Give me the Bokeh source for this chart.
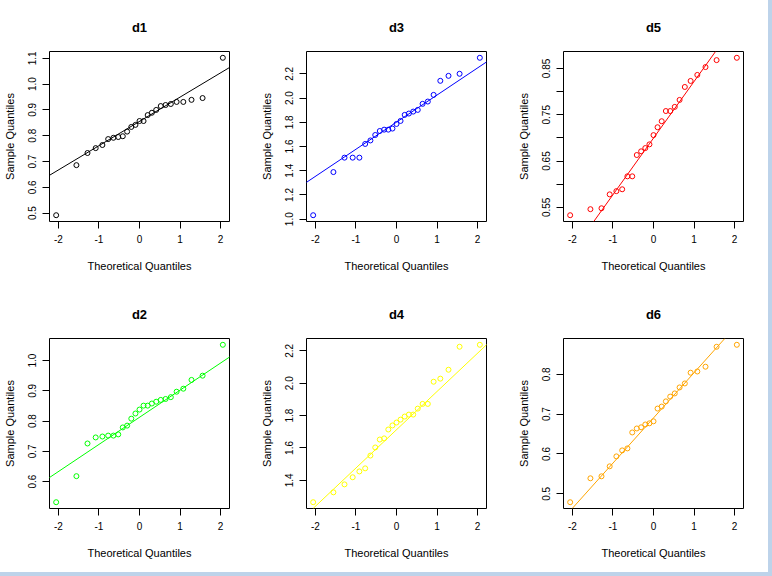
import math
import numpy as np
from bokeh.plotting import figure
from bokeh.models import Range1d, FixedTicker, Slope
from bokeh.layouts import row, column
from bokeh.embed import file_html
from bokeh.resources import INLINE

# Theoretical normal quantiles for n = 25 (ppoints)
theo_q = [-2.054, -1.555, -1.282, -1.080, -0.915, -0.772, -0.643, -0.524, -0.412,
          -0.305, -0.202, -0.100, 0.000, 0.100, 0.202, 0.305, 0.412, 0.524, 0.643,
          0.772, 0.915, 1.080, 1.282, 1.555, 2.054]

# Sorted sample quantiles
d1 = [0.492, 0.686, 0.733, 0.752, 0.764, 0.787, 0.792, 0.795, 0.798, 0.816, 0.834,
      0.842, 0.857, 0.857, 0.880, 0.889, 0.900, 0.915, 0.919, 0.923, 0.931, 0.931,
      0.939, 0.946, 1.102]
d3 = [1.033, 1.389, 1.508, 1.508, 1.508, 1.621, 1.650, 1.695, 1.728, 1.739, 1.739,
      1.748, 1.786, 1.811, 1.861, 1.872, 1.888, 1.902, 1.952, 1.971, 2.026, 2.142,
      2.183, 2.200, 2.332]
d5 = [0.533, 0.546, 0.548, 0.578, 0.585, 0.589, 0.617, 0.617, 0.663, 0.671, 0.678,
      0.686, 0.706, 0.723, 0.736, 0.758, 0.758, 0.767, 0.782, 0.810, 0.823, 0.836,
      0.853, 0.868, 0.873]
d2 = [0.532, 0.618, 0.726, 0.746, 0.749, 0.752, 0.752, 0.756, 0.779, 0.785, 0.808,
      0.825, 0.838, 0.851, 0.851, 0.858, 0.864, 0.870, 0.873, 0.879, 0.897, 0.907,
      0.936, 0.950, 1.052]
d4 = [1.265, 1.326, 1.375, 1.419, 1.455, 1.474, 1.553, 1.603, 1.652, 1.659, 1.714,
      1.739, 1.757, 1.775, 1.794, 1.806, 1.806, 1.843, 1.872, 1.872, 2.009, 2.028,
      2.083, 2.225, 2.237]
d6 = [0.479, 0.539, 0.544, 0.569, 0.594, 0.609, 0.614, 0.654, 0.664, 0.667, 0.674,
      0.677, 0.682, 0.714, 0.719, 0.732, 0.744, 0.752, 0.767, 0.777, 0.804, 0.807,
      0.819, 0.869, 0.874]

x_ticks = [-2, -1, 0, 1, 2]
x_labels = ["-2", "-1", "0", "1", "2"]

d1_ticks = [0.5, 0.6, 0.7, 0.8, 0.9, 1.0, 1.1]
d1_labels = ["0.5", "0.6", "0.7", "0.8", "0.9", "1.0", "1.1"]
d3_ticks = [1.0, 1.2, 1.4, 1.6, 1.8, 2.0, 2.2]
d3_labels = ["1.0", "1.2", "1.4", "1.6", "1.8", "2.0", "2.2"]
d5_ticks = [0.55, 0.60, 0.65, 0.70, 0.75, 0.80, 0.85]
d5_labels = ["0.55", "", "0.65", "", "0.75", "", "0.85"]
d2_ticks = [0.6, 0.7, 0.8, 0.9, 1.0]
d2_labels = ["0.6", "0.7", "0.8", "0.9", "1.0"]
d4_ticks = [1.4, 1.6, 1.8, 2.0, 2.2]
d4_labels = ["1.4", "1.6", "1.8", "2.0", "2.2"]
d6_ticks = [0.5, 0.6, 0.7, 0.8]
d6_labels = ["0.5", "0.6", "0.7", "0.8"]

FONT = "Liberation Sans"
Z_Q = 0.6744897501960817  # normal quartile


def padded(vals):
    lo, hi = min(vals), max(vals)
    d = (hi - lo) * 0.04
    return Range1d(lo - d, hi + d)


def make(name, vals, color, yticks, ylabels, right, top, bottom):
    p = figure(frame_width=180, frame_height=170,
               min_border_left=49, min_border_right=right,
               min_border_top=top, min_border_bottom=bottom,
               x_range=padded(theo_q), y_range=padded(vals),
               output_backend="svg", toolbar_location=None,
               background_fill_color="white", border_fill_color="white")
    p.title.text = name
    p.title.align = "center"
    p.title.text_font = FONT
    p.title.text_font_size = "13px"
    p.title.text_font_style = "bold"
    p.title.text_color = "black"
    p.title.standoff = 34
    p.xgrid.visible = False
    p.ygrid.visible = False
    p.outline_line_color = "black"
    p.outline_line_alpha = 1.0
    p.outline_line_width = 1

    for ax in (p.xaxis[0], p.yaxis[0]):
        ax.axis_line_color = None
        ax.major_tick_in = 0
        ax.major_tick_out = 7
        ax.major_tick_line_color = "black"
        ax.minor_tick_line_color = None
        ax.major_label_text_font = FONT
        ax.major_label_text_font_size = "10px"
        ax.major_label_text_color = "black"
        ax.axis_label_text_font = FONT
        ax.axis_label_text_font_size = "11px"
        ax.axis_label_text_font_style = "normal"
        ax.axis_label_text_color = "black"

    p.xaxis.ticker = FixedTicker(ticks=x_ticks)
    p.xaxis.major_label_overrides = dict(zip([float(t) for t in x_ticks], x_labels))
    p.xaxis.axis_label = "Theoretical Quantiles"
    p.xaxis.major_label_standoff = 6
    p.xaxis.axis_label_standoff = 14

    p.yaxis.ticker = FixedTicker(ticks=yticks)
    p.yaxis.major_label_overrides = dict(zip(yticks, ylabels))
    p.yaxis.axis_label = "Sample Quantiles"
    p.yaxis.major_label_orientation = "parallel"
    p.yaxis.major_label_standoff = 6
    p.yaxis.axis_label_standoff = 10

    # qqline through the first and third quartiles
    q1, q3 = np.quantile(vals, [0.25, 0.75])
    slope = (q3 - q1) / (2 * Z_Q)
    intercept = q1 + slope * Z_Q
    p.add_layout(Slope(gradient=slope, y_intercept=intercept,
                       line_color=color, line_width=1))

    p.scatter(theo_q, vals, size=5, marker="circle", fill_color=None,
              line_color=color, line_width=1)
    return p


f1 = make("d1", d1, "black", d1_ticks, d1_labels, 28, 51, 66)
f3 = make("d3", d3, "blue", d3_ticks, d3_labels, 28, 51, 66)
f5 = make("d5", d5, "red", d5_ticks, d5_labels, 25, 51, 66)
f2 = make("d2", d2, "#00ff00", d2_ticks, d2_labels, 28, 50, 64)
f4 = make("d4", d4, "#ffff00", d4_ticks, d4_labels, 28, 50, 64)
f6 = make("d6", d6, "#ffa500", d6_ticks, d6_labels, 25, 50, 64)

grid = column(row(f1, f3, f5), row(f2, f4, f6),
              styles={"background-color": "white",
                      "border-right": "4px solid #bdd3ea",
                      "border-bottom": "5px solid #bdd3ea"})

open("out.html", "w").write(file_html(grid, INLINE))
